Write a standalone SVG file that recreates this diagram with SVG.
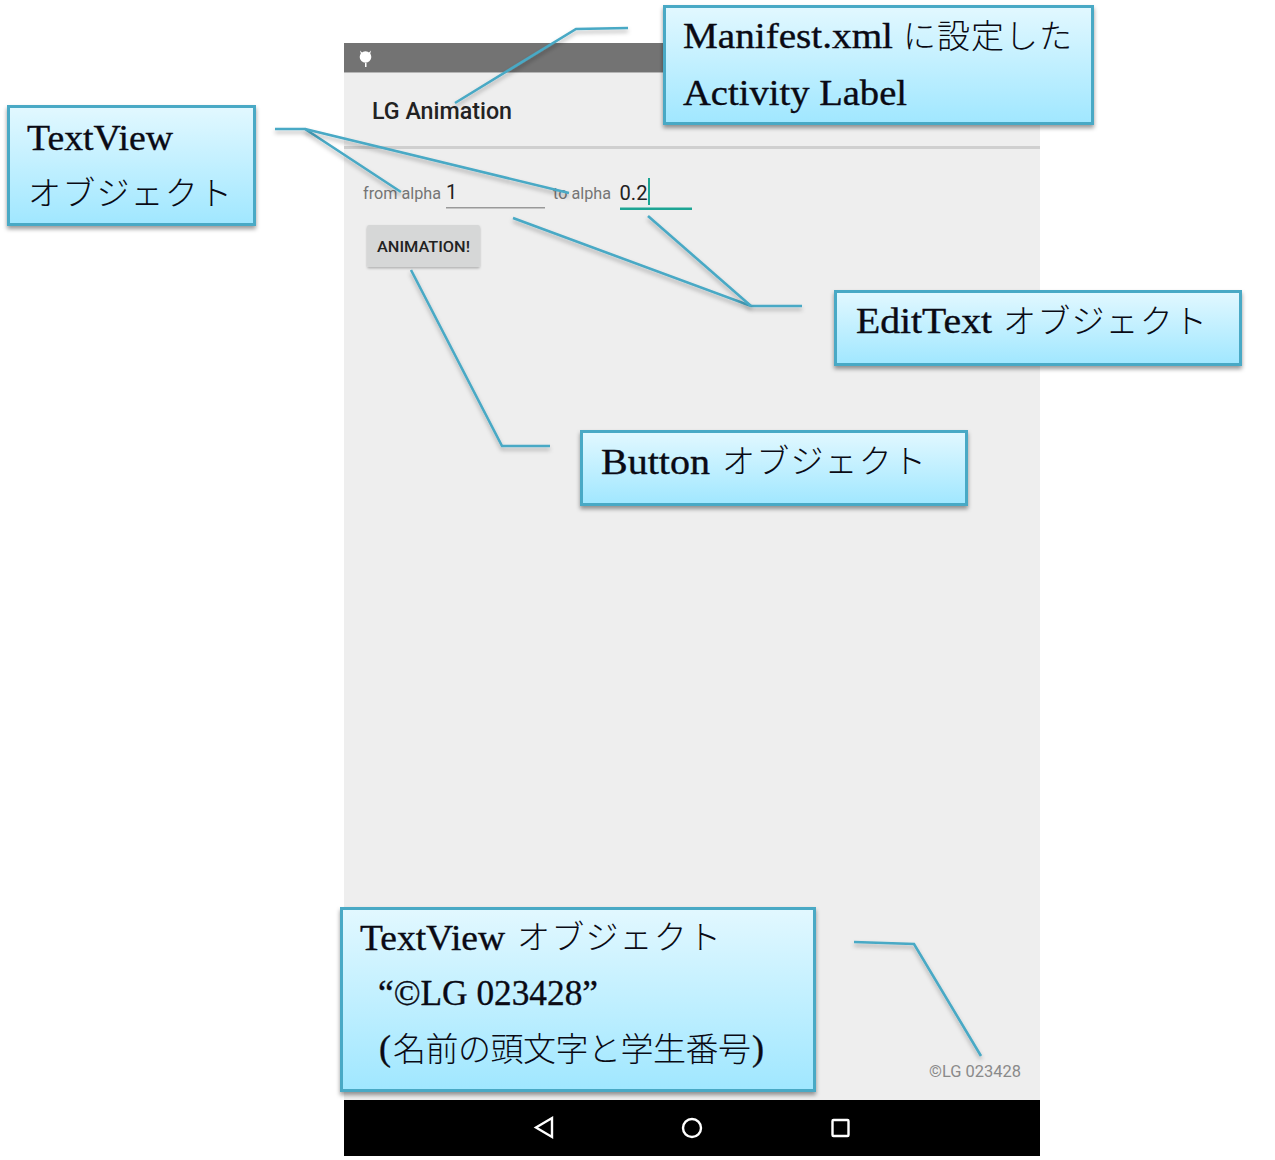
<svg xmlns="http://www.w3.org/2000/svg" width="1275" height="1160" viewBox="0 0 1275 1160">
<defs>
<linearGradient id="g" x1="0" y1="0" x2="0" y2="1"><stop offset="0" stop-color="#e2f8ff"/><stop offset="1" stop-color="#a0e7ff"/></linearGradient>
<filter id="s" x="-10%" y="-20%" width="120%" height="140%"><feDropShadow dx="0" dy="3" stdDeviation="2" flood-color="#000" flood-opacity="0.4"/></filter>
<filter id="ls" x="-20%" y="-20%" width="140%" height="140%"><feDropShadow dx="0" dy="3" stdDeviation="2" flood-color="#000" flood-opacity="0.3"/></filter>
<filter id="bs" x="-5%" y="-10%" width="110%" height="120%"><feDropShadow dx="0" dy="1.500" stdDeviation="1" flood-color="#000" flood-opacity="0.25"/></filter>
</defs>
<style>
.box{fill:url(#g);stroke:#48a9c5;stroke-width:3;filter:url(#s)}
.t{font-family:"Liberation Serif",serif;font-size:35px;fill:#0a0a14;stroke:#0a0a14;stroke-width:0.35}
.j{font-family:"Noto Sans CJK JP",sans-serif;font-size:33px;font-weight:300;fill:#0a0a14}
.u{font-family:Roboto,"Liberation Sans",sans-serif}
.c{fill:none;stroke:#48a9c5;stroke-width:2.6;filter:url(#ls)}
.nav{fill:none;stroke:#fff;stroke-width:2.4}
</style>
<g id="phone">
<rect x="344" y="43" width="696" height="1113" fill="#eeeeee"/>
<rect x="344" y="43" width="696" height="29" fill="#737373"/>
<rect x="344" y="72" width="696" height="1" fill="#b5b5b5"/>
<circle cx="365.500" cy="57" r="5.800" fill="#fff"/>
<path d="M360 50.500l3 3-2 1zM371 50.500l-3 3 2 1z" fill="#fff"/>
<rect x="365" y="63" width="1.500" height="4" fill="#fff"/>
<text class="u" x="372" y="119" font-size="23" font-weight="500" fill="#222" textLength="140" lengthAdjust="spacingAndGlyphs">LG Animation</text>
<rect x="344" y="146" width="696" height="3" fill="#cfcfcf"/>
<text class="u" x="363" y="199" font-size="17" fill="#757575" textLength="78" lengthAdjust="spacingAndGlyphs">from alpha</text>
<text class="u" x="446" y="199" font-size="20" fill="#222">1</text>
<rect x="446" y="207" width="99" height="1.500" fill="#999"/>
<text class="u" x="553" y="199" font-size="17" fill="#757575" textLength="58" lengthAdjust="spacingAndGlyphs">to alpha</text>
<text class="u" x="619.500" y="200" font-size="21" fill="#222" textLength="28" lengthAdjust="spacingAndGlyphs">0.2</text>
<rect x="648" y="178" width="2" height="27" fill="#1da594"/>
<rect x="620" y="207.500" width="72" height="2.500" fill="#1da594"/>
<rect x="367" y="225" width="113" height="42" rx="2" fill="#d6d7d7" filter="url(#bs)"/>
<text class="u" x="377" y="252" font-size="15.500" font-weight="500" fill="#222" textLength="93" lengthAdjust="spacingAndGlyphs">ANIMATION!</text>
<text class="u" x="929" y="1077" font-size="17" fill="#8a8a8a" textLength="92" lengthAdjust="spacingAndGlyphs">©LG 023428</text>
<rect x="344" y="1100" width="696" height="56" fill="#000"/>
<path class="nav" d="M552 1118v19l-16-9.500z"/>
<circle class="nav" cx="692" cy="1128" r="9"/>
<rect class="nav" x="832.500" y="1120" width="16" height="16" rx="1"/>
</g>
<g id="connectors">
<polyline class="c" points="628,28 576,29 455,103"/>
<polyline class="c" points="275,129 305,129 401,192"/>
<polyline class="c" points="305,129 569,193"/>
<polyline class="c" points="513,218 751,306 802,306"/>
<polyline class="c" points="648,216 751,306"/>
<polyline class="c" points="411,270 502,446 550,446"/>
<polyline class="c" points="854,942 914,944 981,1056"/>
</g>
<g id="node-manifest">
<rect class="box" x="664.500" y="6.500" width="428" height="117"/>
<text class="t" x="683" y="48" textLength="210" lengthAdjust="spacingAndGlyphs">Manifest.xml</text>
<text class="j" x="903" y="48" textLength="169">に設定した</text>
<text class="t" x="683" y="105" textLength="224" lengthAdjust="spacingAndGlyphs">Activity Label</text>
</g>
<g id="node-textview">
<rect class="box" x="8.500" y="106.500" width="246" height="118"/>
<text class="t" x="27" y="150" textLength="146" lengthAdjust="spacingAndGlyphs">TextView</text>
<text class="j" x="28" y="205" textLength="204">オブジェクト</text>
</g>
<g id="node-edittext">
<rect class="box" x="835.500" y="291.500" width="405" height="73"/>
<text class="t" x="856" y="333" textLength="136" lengthAdjust="spacingAndGlyphs">EditText</text>
<text class="j" x="1003" y="333" textLength="204">オブジェクト</text>
</g>
<g id="node-button">
<rect class="box" x="581.500" y="431.500" width="385" height="73"/>
<text class="t" x="601" y="474" textLength="109" lengthAdjust="spacingAndGlyphs">Button</text>
<text class="j" x="722" y="473" textLength="204">オブジェクト</text>
</g>
<g id="node-copyright">
<rect class="box" x="341.500" y="908.500" width="473" height="182"/>
<text class="t" x="360" y="950" textLength="145" lengthAdjust="spacingAndGlyphs">TextView</text>
<text class="j" x="517" y="949" textLength="204">オブジェクト</text>
<text class="t" x="378" y="1005" textLength="220" lengthAdjust="spacingAndGlyphs">“©LG 023428”</text>
<text class="t" x="379" y="1060" textLength="12" lengthAdjust="spacingAndGlyphs">(</text>
<text class="j" x="393" y="1061" textLength="358">名前の頭文字と学生番号</text>
<text class="t" x="752" y="1060" textLength="12" lengthAdjust="spacingAndGlyphs">)</text>
</g>
</svg>
